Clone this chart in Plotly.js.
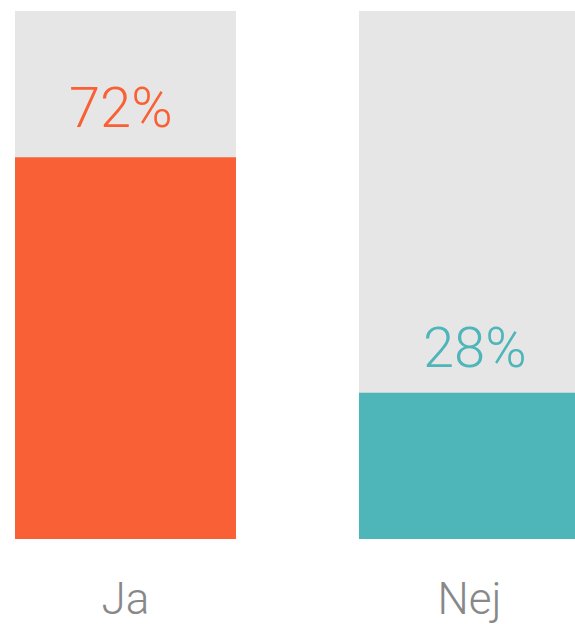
<!DOCTYPE html>
<html>
<head>
<meta charset="utf-8">
<script src="https://cdn.plot.ly/plotly-3.0.1.min.js"></script>
<style>html,body{margin:0;padding:0;background:#fff;}#chart{width:575px;height:624px;}</style>
</head>
<body>
<div id="chart"></div>
<script>
const categories = ["Ja", "Nej"];
const values = [72.3, 27.7];
const valueLabels = ["72%", "28%"];
const totals = [100, 100];
const barColors = ["#FA6035", "#4EB5B9"];

const bg = {
  type: "bar", x: categories, y: totals,
  marker: {color: "#E6E6E6"}, width: 0.6424,
  hoverinfo: "skip", showlegend: false
};
const fg = {
  type: "bar", x: categories, y: values,
  marker: {color: barColors}, width: 0.6424,
  showlegend: false
};
const xShifts = [-4, 6];
const yShifts = [14, 10];
const annotations = categories.map((c, i) => ({
  x: c, y: values[i], xref: "x", yref: "y",
  text: valueLabels[i], showarrow: false,
  xanchor: "center", yanchor: "bottom",
  xshift: xShifts[i], yshift: yShifts[i],
  font: {family: "Roboto", size: 56, weight: 300, color: barColors[i]}
}));
const layout = {
  width: 575, height: 624,
  margin: {l: 0, r: 0, t: 11, b: 85},
  paper_bgcolor: "#fff", plot_bgcolor: "#fff",
  barmode: "overlay",
  annotations: annotations,
  xaxis: {type: "category", range: [-0.3648, 1.3067], showgrid: false, zeroline: false,
          showline: false, ticks: "", ticklabelstandoff: 30,
          tickfont: {family: "Roboto", size: 44, weight: 300, color: "#888888"}},
  yaxis: {range: [0, 100], visible: false, showgrid: false, zeroline: false}
};
Plotly.newPlot("chart", [bg, fg], layout, {displayModeBar: false, staticPlot: true});
</script>
</body>
</html>
